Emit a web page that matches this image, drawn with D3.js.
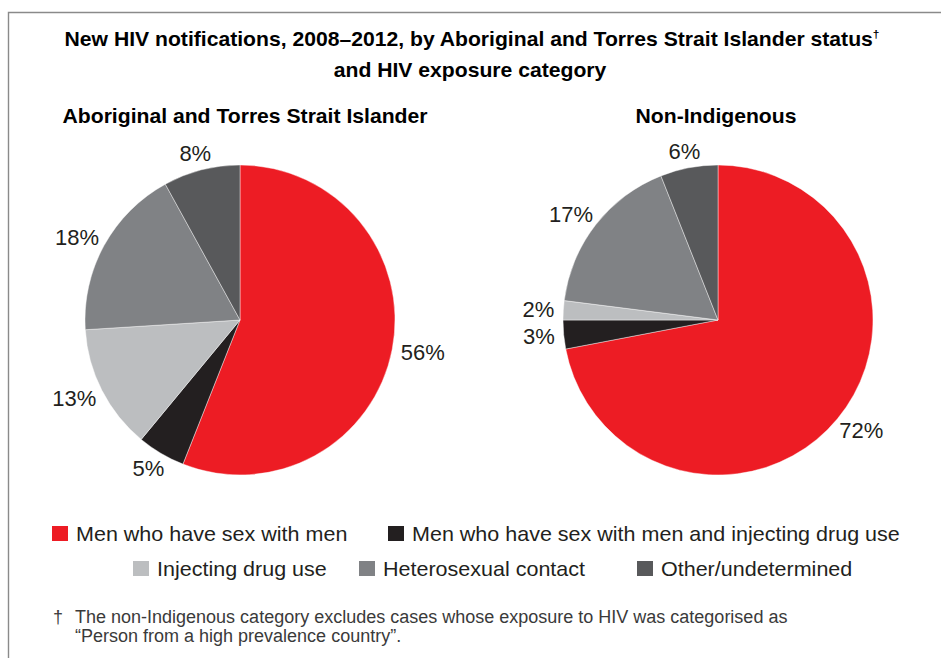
<!DOCTYPE html>
<html>
<head>
<meta charset="utf-8">
<script src="https://cdn.jsdelivr.net/npm/d3@7"></script>
<style>
  html, body { margin: 0; padding: 0; background: #fff; }
  svg { display: block; font-family: "Liberation Sans", Arial, Helvetica, sans-serif; }
</style>
</head>
<body>
<svg id="chart" width="941" height="658"></svg>
<script>
// ---- Data ----
const titleLine1 = "New HIV notifications, 2008\u20132012, by Aboriginal and Torres Strait Islander status";
const titleLine2 = "and HIV exposure category";
const groups = ["Aboriginal and Torres Strait Islander", "Non-Indigenous"];
const categories = [
  "Men who have sex with men",
  "Men who have sex with men and injecting drug use",
  "Injecting drug use",
  "Heterosexual contact",
  "Other/undetermined"
];
const indigenousValues = [56, 5, 13, 18, 8];
const nonIndigenousValues = [72, 3, 2, 17, 6];
const categoryColors = ["#ED1C24", "#231F20", "#BCBEC0", "#808285", "#58595B"];
const footnoteLines = [
  "The non-Indigenous category excludes cases whose exposure to HIV was categorised as",
  "\u201CPerson from a high prevalence country\u201D."
];

// ---- Layout ----
const svg = d3.select("#chart");
const W = 941, H = 658;
const textColor = "#231F20";
const color = d3.scaleOrdinal().domain(categories).range(categoryColors);

// text helper with horizontal stretch (reference face is wider than Liberation Sans)
function addText(parent, x, y, sx) {
  return parent.append("text")
    .attr("transform", `translate(${x},${y}) scale(${sx},1)`);
}

// frame (top and left edges, continuing off the picture)
svg.append("path")
  .attr("d", `M8.5,${H} L8.5,12.5 L${W},12.5`)
  .attr("fill", "none").attr("stroke", "#8a8a8a").attr("stroke-width", 1.4);

// title
const boldSize = 19.5, boldScale = 1.085;
const title = addText(svg, 472, 46, boldScale)
  .attr("text-anchor", "middle")
  .attr("font-weight", "bold").attr("font-size", boldSize)
  .attr("fill", "#000");
title.append("tspan").text(titleLine1);
title.append("tspan").attr("font-size", 11).attr("dy", -8).text("\u2020");
addText(svg, 470, 77, boldScale)
  .attr("text-anchor", "middle")
  .attr("font-weight", "bold").attr("font-size", boldSize)
  .attr("fill", "#000")
  .text(titleLine2);

// pies
const R = 155;
const centers = [[240, 320], [718, 320]];
const subtitleX = [245, 716];
const seriesList = [indigenousValues, nonIndigenousValues];
const pie = d3.pie().sort(null).value(d => d);
const arc = d3.arc().innerRadius(0).outerRadius(R);

seriesList.forEach((vals, gi) => {
  const [cx, cy] = centers[gi];
  addText(svg, subtitleX[gi], 123, boldScale)
    .attr("text-anchor", "middle")
    .attr("font-weight", "bold").attr("font-size", boldSize)
    .attr("fill", "#000")
    .text(groups[gi]);

  const g = svg.append("g").attr("transform", `translate(${cx},${cy})`);
  const arcs = pie(vals);
  g.selectAll("path.slice")
    .data(arcs)
    .join("path")
    .attr("class", "slice")
    .attr("d", arc)
    .attr("fill", (d, i) => color(categories[i]))
    .attr("stroke", "#ffffff").attr("stroke-width", 0.6).attr("stroke-opacity", 0.7);

  const pad = 9;
  arcs.forEach((d, i) => {
    const mid = (d.startAngle + d.endAngle) / 2;
    const ux = Math.sin(mid), uy = -Math.cos(mid);
    const t = g.append("text")
      .attr("text-anchor", "middle")
      .attr("font-size", 22)
      .attr("fill", textColor)
      .text(d.data + "%");
    const w = t.node().getBBox().width, h = 16;
    const x = (R + pad) * ux + (w / 2) * ux;
    const y = (R + pad) * uy + (h / 2) * uy;
    t.attr("x", x).attr("y", y + 7.9);
  });
});

// legend
const legendSize = 20.5, legendScale = 1.05;
const legendItems = [
  { i: 0, x: 52, y: 541 },
  { i: 1, x: 388, y: 541 },
  { i: 2, x: 133, y: 576 },
  { i: 3, x: 359, y: 576 },
  { i: 4, x: 637, y: 576 }
];
const lg = svg.append("g");
legendItems.forEach(it => {
  lg.append("rect")
    .attr("x", it.x).attr("y", it.y - 15)
    .attr("width", 16).attr("height", 15)
    .attr("fill", color(categories[it.i]));
  addText(lg, it.x + 24, it.y, legendScale)
    .attr("font-size", legendSize)
    .attr("fill", textColor)
    .text(categories[it.i]);
});

// footnote
svg.append("text")
  .attr("x", 53).attr("y", 622.5)
  .attr("font-size", 18).attr("fill", "#3a3a3a")
  .text("\u2020");
footnoteLines.forEach((line, k) => {
  svg.append("text")
    .attr("x", 75).attr("y", 622.5 + k * 19.5)
    .attr("font-size", 18).attr("fill", "#3a3a3a")
    .text(line);
});
</script>
</body>
</html>
